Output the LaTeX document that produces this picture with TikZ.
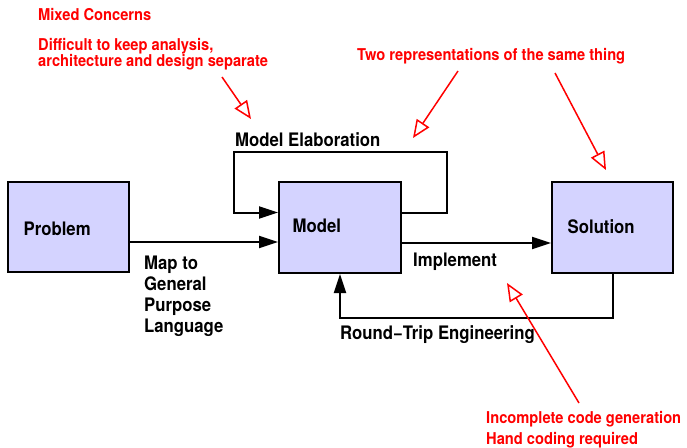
\documentclass[tikz,border=0pt]{standalone}
\usepackage{fontspec}
\setmainfont{TeX Gyre Heros}[FakeStretch=0.9]
\usetikzlibrary{arrows.meta}
\definecolor{boxfill}{RGB}{212,211,255}
\definecolor{notered}{RGB}{255,0,0}
\tikzset{
  stage/.style={draw=black, line width=2pt, fill=boxfill, inner sep=0pt},
  lbl/.style={anchor=base west, inner sep=0pt, font=\fontsize{18.6}{21}\selectfont\bfseries, align=left},
  note/.style={anchor=base west, inner sep=0pt, text=notered, font=\fontsize{16.3}{16}\selectfont\bfseries, align=left},
  flow/.style={draw=black, line width=2pt, -{Triangle[length=19pt,width=12pt]}},
  pointer/.style={draw=notered, line width=1.5pt, -{Triangle[open,length=18pt,width=15pt,line width=1.5pt]}},
}
\begin{document}
\begin{tikzpicture}[x=1pt,y=-1pt]
\useasboundingbox (0,0) rectangle (687,447);

% process boxes
\node[stage, minimum width=121pt, minimum height=90pt] (prob) at (68.5,227) {};
\node[stage, minimum width=122pt, minimum height=91pt] (model) at (340,227.5) {};
\node[stage, minimum width=121pt, minimum height=91pt] (sol) at (612.5,227.5) {};

\node[lbl] (problbl) at (23.5,235.7) {Problem};
\node[lbl] (modellbl) at (292.5,232.7) {Model};
\node[lbl] (sollbl) at (567.5,233) {Solution};

% Problem -> Model
\draw[flow] ([yshift=-15pt]prob.east) -- ([yshift=-15pt]prob.east -| model.west);
% multi-line labels: the base anchor sits on the last line
\node[lbl] (maplbl) at (144,332) {Map to\\General\\Purpose\\Language};

% Model elaboration loop
\coordinate (elabR) at (447,152);
\coordinate (elabL) at (234,152);
\draw[flow] ([yshift=15pt]model.east) -| (elabR) -- (elabL) |- ([yshift=15pt]model.west);
\node[lbl] (elablbl) at (235,146) {Model Elaboration};

% Model -> Solution
\draw[flow] ([yshift=-15.5pt]model.east) -- ([yshift=-15.5pt]model.east -| sol.west);
\node[lbl] (impllbl) at (413,266.7) {Implement};

% round trip back to the model
\coordinate (rt) at (340,318);
\draw[flow] (sol.south) |- (rt) -- (model.south);
\node[lbl] (rtlbl) at (340,339) {Round{\char"2212}Trip Engineering};

% red annotations
\node[note] (mixed) at (38,20.7) {Mixed Concerns};
\node[note] (diff) at (38,66.2) {Difficult to keep analysis,\\[-0.5pt]architecture and design separate};
\node[note] (tworep) at (357,60.7) {Two representations of the same thing};
\node[note] (incomp) at (486,444) {Incomplete code generation\\[4.5pt]Hand coding required};

\coordinate (d0) at (222,77);   \coordinate (d1) at (251,119);
\coordinate (t0) at (458,71);   \coordinate (t1) at (413,138);
\coordinate (s0) at (555,73);   \coordinate (s1) at (606,170);
\coordinate (i0) at (579,403);  \coordinate (i1) at (507,283);
\draw[pointer] (d0) -- (d1);
\draw[pointer] (t0) -- (t1);
\draw[pointer] (s0) -- (s1);
\draw[pointer] (i0) -- (i1);
\end{tikzpicture}
\end{document}
